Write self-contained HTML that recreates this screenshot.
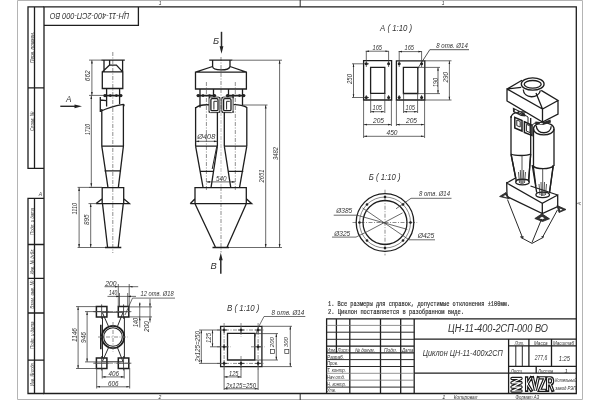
<!DOCTYPE html>
<html><head><meta charset="utf-8">
<style>
html,body{margin:0;padding:0;background:#fff;width:600px;height:400px;overflow:hidden}
svg{display:block;filter:grayscale(100%)}
text{font-family:"Liberation Sans",sans-serif;font-style:italic;fill:#333}
.n text,text.n{font-style:normal}
.mono text{font-family:"Liberation Mono",monospace}
.k{stroke:#1e1e1e;stroke-width:1.3;fill:none}
.m{stroke:#2a2a2a;stroke-width:1;fill:none}
.t{stroke:#3a3a3a;stroke-width:0.75;fill:none}
.c{stroke:#6a6a6a;stroke-width:0.75;fill:none;stroke-dasharray:4 1.5 1 1.5}
.d{fill:#222}
</style></head>
<body>
<svg width="600" height="400" viewBox="0 0 600 400">
<rect width="600" height="400" fill="#fff"/>
<!-- outer sheet -->
<path style="stroke:#b4b4b4;stroke-width:1;fill:none" d="M17.5,0.5 H582.5 V399.5 H17.5 Z"/>
<!-- frame -->
<path class="k" d="M44,6.9 H576.3 V393.5 H44 Z"/>
<!-- ticks -->
<path class="m" d="M300.2,0 V6.9 M300.2,393.5 V400"/>
<!-- upper strip -->
<path class="k" d="M44,6.9 H28 V168.3 H44 M34.5,6.9 V168.3 M28,87.8 H44"/>
<!-- lower strip -->
<path class="k" d="M44,198.3 H28 V393.5 H44 M34.5,198.3 V393.5 M28,244.5 H44 M28,278.3 H44 M28,313 H44 M28,360.1 H44"/>
<!-- rotated title box -->
<path class="k" d="M44,25.4 H138.4 V6.9"/>
<text transform="translate(129.3,13.4) rotate(180)" font-size="9.4" textLength="79.5" lengthAdjust="spacingAndGlyphs">ЦН-11-400-2СП-000 ВО</text>
<!-- strip labels -->
<g font-size="6" fill="#444">
<text transform="translate(33.6,63) rotate(-90)" textLength="31" lengthAdjust="spacingAndGlyphs">Перв. примен.</text>
<text transform="translate(33.6,131) rotate(-90)" textLength="19.4" lengthAdjust="spacingAndGlyphs">Справ. №</text>
<text transform="translate(33.6,235) rotate(-90)" textLength="27" lengthAdjust="spacingAndGlyphs">Подп. и дата</text>
<text transform="translate(33.6,274.5) rotate(-90)" textLength="26" lengthAdjust="spacingAndGlyphs">Инв. № дубл.</text>
<text transform="translate(33.6,308.7) rotate(-90)" textLength="28" lengthAdjust="spacingAndGlyphs">Взам. инв. №</text>
<text transform="translate(33.6,349) rotate(-90)" textLength="27.5" lengthAdjust="spacingAndGlyphs">Подп. и дата</text>
<text transform="translate(33.6,385.7) rotate(-90)" textLength="23.5" lengthAdjust="spacingAndGlyphs">Инв. № подл.</text>
<text x="38.8" y="196.2" font-size="5">А</text>
<text transform="translate(581,205) rotate(-90)" font-size="4.5">А</text>
<text x="158.8" y="4.6" font-size="5">1</text>
<text x="441.8" y="4.6" font-size="5">1</text>
<text x="158.5" y="399.4" font-size="5">2</text>
</g>
<!-- title block -->
<g>
<path class="k" d="M326.6,393.2 V318.8 H576 M336.4,318.8 V352.8 M349.8,318.8 V393.2 M380.5,318.8 V393.2 M400.7,318.8 V393.2 M414.2,318.8 V393.2 M326.6,346.2 H414.2 M326.6,352.8 H414.2 M508.6,339.2 V393.2 M414.2,339.2 H576 M414.2,373.2 H576 M508.6,345.9 H576 M508.6,366.4 H576 M528.9,339.2 V366.4 M551.5,339.2 V366.4 M536.2,366.4 V373.2"/>
<path class="m" d="M326.6,332.2 H414.2 M326.6,339.3 H414.2 M326.6,359.6 H414.2 M326.6,366.5 H414.2 M326.6,387.1 H414.2 M515.8,345.9 V366.4 M522.3,345.9 V366.4"/>
<path class="t" style="stroke:#777;stroke-width:0.8" d="M326.6,325.4 H414.2 M326.6,373.3 H414.2 M326.6,380.2 H414.2"/>
</g>
<g font-size="5" fill="#333">
<text x="327" y="352" font-size="5.6" textLength="9" lengthAdjust="spacingAndGlyphs">Изм.</text>
<text x="337.5" y="352" font-size="5.6" textLength="11" lengthAdjust="spacingAndGlyphs">Лист</text>
<text x="355" y="352" font-size="5.6" textLength="20" lengthAdjust="spacingAndGlyphs">№ докум.</text>
<text x="384" y="352" font-size="5.6" textLength="13" lengthAdjust="spacingAndGlyphs">Подп.</text>
<text x="402" y="352" font-size="5.6" textLength="11.5" lengthAdjust="spacingAndGlyphs">Дата</text>
<text x="327" y="358.6" font-size="6" textLength="17" lengthAdjust="spacingAndGlyphs">Разраб.</text>
<text x="327" y="365.4" font-size="6" textLength="11" lengthAdjust="spacingAndGlyphs">Пров.</text>
<text x="327" y="372.2" font-size="6" textLength="19" lengthAdjust="spacingAndGlyphs">Т. контр.</text>
<text x="327" y="379" font-size="6" textLength="18" lengthAdjust="spacingAndGlyphs">Нач.отд.</text>
<text x="327" y="385.8" font-size="6" textLength="19" lengthAdjust="spacingAndGlyphs">Н. контр.</text>
<text x="327" y="392.4" font-size="6" textLength="9" lengthAdjust="spacingAndGlyphs">Утв.</text>
<text x="448" y="332.4" font-size="10" textLength="100" lengthAdjust="spacingAndGlyphs">ЦН-11-400-2СП-000 ВО</text>
<text x="422.8" y="356.3" font-size="8.8" textLength="80" lengthAdjust="spacingAndGlyphs">Циклон ЦН-11-400х2СП</text>
<text x="514.7" y="345.2" font-size="6" textLength="9.5" lengthAdjust="spacingAndGlyphs">Лит.</text>
<text x="534" y="345.2" font-size="6" textLength="13.5" lengthAdjust="spacingAndGlyphs">Масса</text>
<text x="553" y="345.2" font-size="6" textLength="21" lengthAdjust="spacingAndGlyphs">Масштаб</text>
<text x="534.7" y="360" font-size="6.6" textLength="12.6" lengthAdjust="spacingAndGlyphs">277,6</text>
<text x="558.7" y="360.5" font-size="6.6" textLength="11.3" lengthAdjust="spacingAndGlyphs">1:25</text>
<text x="510.7" y="372.8" font-size="6" textLength="11.3" lengthAdjust="spacingAndGlyphs">Лист</text>
<text x="538" y="372.8" font-size="6" textLength="15.3" lengthAdjust="spacingAndGlyphs">Листов</text>
<text x="564.5" y="372.8" font-size="6">1</text>
<text x="555.3" y="382" font-size="5.2" textLength="21" lengthAdjust="spacingAndGlyphs">Котельный</text>
<text x="555.3" y="389.8" font-size="5.2" textLength="21" lengthAdjust="spacingAndGlyphs">завод РЭП</text>
<text x="442.3" y="398.8" font-size="5.6">1</text>
<text x="453.8" y="398.8" font-size="5.6" textLength="23.5" lengthAdjust="spacingAndGlyphs">Копировал</text>
<text x="515.6" y="398.8" font-size="5.6" textLength="23.5" lengthAdjust="spacingAndGlyphs">Формат А3</text>
</g>
<!-- notes -->
<g font-size="6.6" fill="#222" class="n mono" stroke="#222" stroke-width="0.18">
<text x="328" y="306.2" textLength="182" lengthAdjust="spacingAndGlyphs">1. Все размеры для справок, допустимые отклонения ±100мм.</text>
<text x="328" y="314.4" textLength="136" lengthAdjust="spacingAndGlyphs">2. Циклон поставляется в разобранном виде.</text>
</g>
<!-- logo -->
<g>
<path d="M512,378.5 H521 M512,382.8 H521 M512,387.1 H521 M512,391 H521 M521,378.5 L512,382.8 M521,382.8 L512,387.1 M521,387.1 L512,391" fill="none" stroke="#1a1a1a" stroke-width="3.4" stroke-linecap="round" stroke-linejoin="round"/>
<path d="M512,378.5 H521 M512,382.8 H521 M512,387.1 H521 M512,391 H521 M521,378.5 L512,382.8 M521,382.8 L512,387.1 M521,387.1 L512,391" fill="none" stroke="#fff" stroke-width="1.2" stroke-linecap="round" stroke-linejoin="round"/>
<path d="M526.6,377.8 V390.3 M531,377.8 L527.2,384 L531.2,390.3 M532.6,377.8 L535.4,390.3 L538.2,377.8 M539.6,377.8 H545 L539.6,390.3 H545.3 M547.6,390.3 V377.8 H550.5 C553.3,377.8 553.3,384 550.5,384 H547.6 M550.2,384 L552.6,390.3" fill="none" stroke="#1a1a1a" stroke-width="3.3" stroke-linejoin="miter" stroke-linecap="square"/><path d="M526.6,377.8 V390.3 M531,377.8 L527.2,384 L531.2,390.3 M532.6,377.8 L535.4,390.3 L538.2,377.8 M539.6,377.8 H545 L539.6,390.3 H545.3 M547.6,390.3 V377.8 H550.5 C553.3,377.8 553.3,384 550.5,384 H547.6 M550.2,384 L552.6,390.3" fill="none" stroke="#fff" stroke-width="1" stroke-linejoin="miter" stroke-linecap="butt"/>
</g>

<!-- LEFT VIEW -->
<g>
<path class="c" d="M112.8,52 V253"/>
<path class="k" d="M101.2,60.1 H124.8 M104,60.1 V71.9 M122.6,60.1 V71.9 M109.6,60.1 V65.1 M109.6,65.1 H116.4 L122.7,71.9 M109.6,65.1 L102.3,71.9 M102.3,71.9 H122.8 V88.5 H102.3 Z M106.6,88.5 V106.6 M119.6,88.5 V104.3"/><path class="k" style="stroke-width:1.7" d="M104,95.6 H121.6"/>
<path class="k" d="M100.3,97 V112 M100.3,100 L106.5,100.6 M100.3,111.5 C106,108.5 116,105.5 123.3,104.3 C124.5,104.5 124,106 123.5,106.2 M101.8,109 V146.2 M123.4,104.5 V146.2 M101.8,146.2 H123.4 L118.4,187.2 M101.8,146.2 L107.9,187.2 M104.5,170.8 H121.1"/>
<path class="k" d="M102.2,187.6 H123.7 V203.6 H102.2 Z M96.1,203.6 H129.4 L123.7,198.8 M96.1,203.6 L102.2,198.8 M102.5,203.6 L107.6,247.5 M123.3,203.6 L118.2,247.5 M105,247.5 H121.3"/>
<g class="d"><circle cx="105" cy="95.6" r="1.7"/><circle cx="110.3" cy="95.6" r="1.4"/><circle cx="116.4" cy="95.6" r="1.4"/><circle cx="120.8" cy="95.6" r="1.7"/></g>
<!-- dims -->
<path class="t" d="M89,60.1 H101 M91.9,60.1 V95.4 M89,95.4 H104 M91.3,95.4 V186.8 M89,187.4 H102 M77.6,187.4 H102 M79.1,187.4 V247.5 M88.5,203.6 H96 M90.7,203.6 V247.5 M77.6,247.5 H105"/>
<g class="d">
<path d="M91.9,60.4 l-0.9,3.2 h1.8z M91.9,95.1 l-0.9,-3.2 h1.8z M91.3,95.7 l-0.9,3.2 h1.8z M91.3,186.5 l-0.9,-3.2 h1.8z M79.1,187.7 l-0.9,3.2 h1.8z M79.1,247.2 l-0.9,-3.2 h1.8z M90.7,203.9 l-0.9,3.2 h1.8z M90.7,247.2 l-0.9,-3.2 h1.8z"/>
</g>
<g font-size="7" fill="#2a2a2a">
<text transform="translate(90.1,81.2) rotate(-90)" textLength="10.9" lengthAdjust="spacingAndGlyphs">662</text>
<text transform="translate(89.8,134.9) rotate(-90)" textLength="10.9" lengthAdjust="spacingAndGlyphs">1710</text>
<text transform="translate(77,214.4) rotate(-90)" textLength="11.4" lengthAdjust="spacingAndGlyphs">1110</text>
<text transform="translate(88.8,225) rotate(-90)" textLength="10.6" lengthAdjust="spacingAndGlyphs">895</text>
</g>
<!-- arrow A -->
<path class="m" style="stroke-width:1.4" d="M60.3,106.3 H76"/>
<path class="d" d="M82,106.3 l-7.5,-1.9 v3.8z"/>
<text x="66" y="101.7" font-size="8.2" fill="#2a2a2a">А</text>
</g>

<!-- FRONT VIEW -->
<g>
<path class="c" d="M221,57 V112 M221,187 V252.5 M206.4,82 V190 M235.3,82 V190"/><path class="c" style="stroke:#aaa" d="M221,112 V187"/>
<path class="k" d="M209.2,60.2 H232.5 M212.6,60.2 V66.5 C213,71 229,71 230,66.5 V60.2 M212.6,66.5 L195.5,72.2 M230,66.5 L246.4,72.2 M195.5,72.2 H246.4 V89 H195.5 Z"/>
<path class="k" d="M200,89 V107.5 M213.5,89 V97 M228.5,89 V97 M242.5,89 V105"/><path class="k" style="stroke-width:1.7" d="M197.5,95.6 H215 M227,95.6 H244.2"/>
<rect class="m" style="stroke-width:0.9" x="209" y="97.1" width="10.9" height="15.5" rx="1.5"/><rect class="m" style="stroke-width:0.9" x="221.8" y="97.1" width="11.3" height="15.5" rx="1.5"/>
<rect class="k" x="210.9" y="98.7" width="7.1" height="12" rx="1.2"/><rect class="k" x="223.6" y="98.7" width="7.4" height="12" rx="1.2"/><path class="m" d="M213.9,101.3 H217 M213.9,101.3 V109.5 M226.6,101.3 H229.8 M226.6,101.3 V109.5"/>
<path class="k" d="M195.6,108 C198,105.6 204,104.6 209,104.8 M233.6,104.6 C238,104.4 245,105.6 246.8,107.5 M195.6,107 V146.1 M217.4,112 V146.1 M224.3,112 V146.1 M246.8,107 V146.1 M195.6,146.1 H217.4 M224.3,146.1 H246.8"/>
<path class="k" d="M195.6,146.1 L203,187.2 M217.4,146.1 L211.1,187.2 M224.3,146.1 L230.7,187.2 M246.8,146.1 L239.6,187.2 M199.6,171.3 H213.4 M227.8,171.3 H243.3"/>
<path class="m" d="M216.8,146.1 L212.2,169"/>
<path class="k" d="M195,187.6 H246.3 V203.7 H195 Z M190.2,203.7 H251.7 L246.3,198.7 M190.2,203.7 L195,198.7 M195,203.7 L215.6,247.5 M246.3,203.7 L226.9,247.5 M212.5,247.5 H229"/>
<g class="d">
<circle cx="198.2" cy="95.6" r="1.7"/><circle cx="203" cy="95.6" r="1.3"/><circle cx="209.5" cy="95.6" r="1.3"/><circle cx="214.5" cy="95.6" r="1.7"/>
<circle cx="227.5" cy="95.6" r="1.7"/><circle cx="233" cy="95.6" r="1.3"/><circle cx="239.5" cy="95.6" r="1.3"/><circle cx="243.7" cy="95.6" r="1.7"/>
<circle cx="209.3" cy="97.8" r="0.8"/><circle cx="219.3" cy="97.8" r="0.8"/><circle cx="209.3" cy="112" r="0.8"/><circle cx="219.3" cy="112" r="0.8"/>
<circle cx="222.5" cy="97.8" r="0.8"/><circle cx="233.3" cy="97.8" r="0.8"/><circle cx="222.5" cy="112" r="0.8"/><circle cx="233.3" cy="112" r="0.8"/>
</g>
<!-- dims -->
<path class="t" d="M232.5,60.2 H282 M242.5,105 H267.5 M229,247.5 H282 M265.7,105 V247.5 M279.6,60.2 V247.5 M195.6,141.3 H217.4 M206.4,181.9 H235.3"/>
<g class="d">
<path d="M265.7,105.3 l-0.9,3.2 h1.8z M265.7,247.2 l-0.9,-3.2 h1.8z M279.6,60.5 l-0.9,3.2 h1.8z M279.6,247.2 l-0.9,-3.2 h1.8z M195.9,141.3 l3.2,-0.9 v1.8z M217.1,141.3 l-3.2,-0.9 v1.8z M206.7,181.9 l3.2,-0.9 v1.8z M235,181.9 l-3.2,-0.9 v1.8z"/>
</g>
<g font-size="7" fill="#2a2a2a">
<text transform="translate(263.8,182.5) rotate(-90)" textLength="13" lengthAdjust="spacingAndGlyphs">2651</text>
<text transform="translate(277.6,160) rotate(-90)" textLength="13" lengthAdjust="spacingAndGlyphs">3482</text>
<text x="197.3" y="138.8" textLength="18" lengthAdjust="spacingAndGlyphs">Ø408</text>
<text x="216" y="180.5" textLength="10.6" lengthAdjust="spacingAndGlyphs">540</text>
</g>
<!-- arrows B, V -->
<path class="m" style="stroke-width:1.5" d="M221.5,31.8 V47"/>
<path class="d" d="M221.5,53.8 l-1.9,-7.5 h3.8z M220.8,252.8 l-1.9,7.5 h3.8z"/>
<path class="m" style="stroke-width:1.5" d="M220.8,259 V273.8"/>
<text x="213" y="43.8" font-size="9.4" fill="#2a2a2a">Б</text>
<text x="210.6" y="269" font-size="9.4" fill="#2a2a2a">В</text>
</g>

<!-- VIEW A -->
<g>
<text x="380" y="30.7" font-size="9.6" fill="#222" textLength="32.2" lengthAdjust="spacingAndGlyphs">А ( 1:10 )</text>
<path class="k" d="M363.6,60.7 H391.6 V100 H363.6 Z M370.6,67.3 H384.8 V93.3 H370.6 Z M396.4,60.8 H424.8 V100 H396.4 Z M403.4,67.4 H417.8 V93.5 H403.4 Z"/>
<path class="t" d="M366.3,51 V67 M388.6,51 V67 M399.2,51 V67 M421.6,51 V67 M366.3,95 V100.5 M388.6,95 V100.5 M399.2,95 V100.5 M421.6,95 V100.5 M363.6,100 V138 M391.4,100 V126 M396.4,100 V126 M424.6,100 V138 M370.7,93 V113 M384.8,93 V113 M403.6,93 V113 M417.6,93 V113 M352,63.8 H369 M352,97.5 H369 M418,67.4 H440 M418,93.6 H440 M425,60.8 H451.5 M425,100 H451.5"/>
<path class="t" d="M365.7,51.2 H388.7 M398.7,51.6 H421.7 M353.5,63.8 V97.5 M438,67.4 V93.6 M449.4,60.8 V100 M370.7,111.7 H384.3 M403.7,111.7 H417.4 M363.7,124.6 H391.3 M396.3,124.6 H424.3 M363.7,136.3 H424.3"/>
<path class="t" style="stroke:#2a2a2a;stroke-width:0.8" d="M417.4,69 L429.8,49.7 H469"/>
<g class="d">
<circle cx="366.3" cy="63.8" r="1.5"/><circle cx="388.6" cy="63.8" r="1.5"/><circle cx="366.3" cy="97.5" r="1.5"/><circle cx="388.6" cy="97.5" r="1.5"/>
<circle cx="399.2" cy="63.8" r="1.5"/><circle cx="421.6" cy="63.8" r="1.5"/><circle cx="399.2" cy="97.5" r="1.5"/><circle cx="421.6" cy="97.5" r="1.5"/>
<path d="M366,51.2 l3,-0.8 v1.6z M388.4,51.2 l-3,-0.8 v1.6z M399,51.6 l3,-0.8 v1.6z M421.4,51.6 l-3,-0.8 v1.6z M353.5,64.1 l-0.8,3 h1.6z M353.5,97.2 l-0.8,-3 h1.6z M438,67.7 l-0.8,3 h1.6z M438,93.3 l-0.8,-3 h1.6z M449.4,61.1 l-0.8,3 h1.6z M449.4,99.7 l-0.8,-3 h1.6z M371,111.7 l3,-0.8 v1.6z M384,111.7 l-3,-0.8 v1.6z M404,111.7 l3,-0.8 v1.6z M417.1,111.7 l-3,-0.8 v1.6z M364,124.6 l3,-0.8 v1.6z M391,124.6 l-3,-0.8 v1.6z M396.6,124.6 l3,-0.8 v1.6z M424,124.6 l-3,-0.8 v1.6z M364,136.3 l3,-0.8 v1.6z M424,136.3 l-3,-0.8 v1.6z"/>
</g>
<g font-size="7" fill="#2a2a2a">
<text x="372.5" y="49.6" textLength="9.5" lengthAdjust="spacingAndGlyphs">165</text>
<text x="404.5" y="49.8" textLength="9.5" lengthAdjust="spacingAndGlyphs">165</text>
<text transform="translate(352,84) rotate(-90)" textLength="10" lengthAdjust="spacingAndGlyphs">250</text>
<text transform="translate(437.6,87) rotate(-90)" textLength="8.9" lengthAdjust="spacingAndGlyphs">190</text>
<text transform="translate(448.4,82.5) rotate(-90)" textLength="10.6" lengthAdjust="spacingAndGlyphs">290</text>
<text x="372.5" y="110" textLength="9.5" lengthAdjust="spacingAndGlyphs">105</text>
<text x="405.5" y="110" textLength="9.5" lengthAdjust="spacingAndGlyphs">105</text>
<text x="373" y="122.8" textLength="11" lengthAdjust="spacingAndGlyphs">205</text>
<text x="406" y="122.8" textLength="11" lengthAdjust="spacingAndGlyphs">205</text>
<text x="386.5" y="134.5" textLength="11" lengthAdjust="spacingAndGlyphs">450</text>
<text x="436.3" y="48" textLength="31.5" lengthAdjust="spacingAndGlyphs">8 отв. Ø14</text>
</g>
</g>
<!-- VIEW B (circle) -->
<g>
<text x="368.8" y="179.6" font-size="9.6" fill="#222" textLength="31.7" lengthAdjust="spacingAndGlyphs">Б ( 1:10 )</text>
<path class="c" d="M352.5,222.5 H417.2 M385,189.7 V255.4"/>
<circle class="t" style="stroke:#555;stroke-width:0.7" cx="385" cy="222.5" r="25.5"/>
<circle class="k" cx="385" cy="222.5" r="28.8"/>
<circle class="k" cx="385" cy="222.5" r="22"/>
<g class="d">
<circle cx="385" cy="197" r="1.3"/><circle cx="385" cy="248" r="1.3"/><circle cx="359.5" cy="222.5" r="1.3"/><circle cx="410.5" cy="222.5" r="1.3"/>
<circle cx="367" cy="204.5" r="1.3"/><circle cx="403" cy="204.5" r="1.3"/><circle cx="367" cy="240.5" r="1.3"/><circle cx="403" cy="240.5" r="1.3"/>
</g>
<path class="t" d="M333.7,215.2 H357 L407.3,229.4 M332,237.1 H356 L367.4,231.5 L402.5,212.9 M409,239.8 H435 M409,239.8 L362.6,208 M411,198.3 H451.5 M411,198.3 L396,208.8"/>
<g font-size="7" fill="#2a2a2a">
<text x="336.2" y="213.3" textLength="16" lengthAdjust="spacingAndGlyphs">Ø385</text>
<text x="334.2" y="235.6" textLength="16" lengthAdjust="spacingAndGlyphs">Ø325</text>
<text x="417.7" y="237.5" textLength="16.5" lengthAdjust="spacingAndGlyphs">Ø425</text>
<text x="419" y="196" textLength="31" lengthAdjust="spacingAndGlyphs">8 отв. Ø14</text>
</g>
</g>

<!-- VIEW V -->
<g>
<text x="227" y="310.6" font-size="9.6" fill="#222" textLength="32.5" lengthAdjust="spacingAndGlyphs">В ( 1:10 )</text>
<path class="k" d="M220.6,326.3 H261.9 V366.6 H220.6 Z M227.5,333.4 H254.8 V360 H227.5 Z"/>
<path class="c" d="M224.1,323 V370 M258.1,323 V370 M217,330 H265 M217,363.4 H265 M241,323 V337 M241,356 V370 M217,346.8 H231 M251,346.8 H265"/>
<path class="m" style="stroke-width:0.8" d="M221.1,330 H227.1 M224.1,327 V333 M238,330 H244 M241,327 V333 M255.10000000000002,330 H261.1 M258.1,327 V333 M221.1,346.8 H227.1 M224.1,343.8 V349.8 M255.10000000000002,346.8 H261.1 M258.1,343.8 V349.8 M221.1,363.4 H227.1 M224.1,360.4 V366.4 M238,363.4 H244 M241,360.4 V366.4 M255.10000000000002,363.4 H261.1 M258.1,360.4 V366.4"/>
<path class="t" d="M199,330 H221 M199,363.4 H221 M210,346.8 H221 M201.3,330 V363.4 M212.5,330 V346.8 M255,333.6 H278 M255,360 H278 M262,326.3 H292 M262,366.6 H292 M276.3,333.6 V360 M290.3,326.3 V366.6 M224.1,366 V390 M241,366 V378 M258.1,366 V390 M224.1,376.9 H241 M224.1,388.8 H258.1"/>
<path class="t" style="stroke:#333;stroke-width:0.7" d="M254.6,337.5 L258.4,327.2 L264,316.5 H305.3"/>
<g class="d">
<circle cx="224.1" cy="330" r="1.3"/><circle cx="241" cy="330" r="1.3"/><circle cx="258.1" cy="330" r="1.3"/>
<circle cx="224.1" cy="346.8" r="1.3"/><circle cx="258.1" cy="346.8" r="1.3"/>
<circle cx="224.1" cy="363.4" r="1.3"/><circle cx="241" cy="363.4" r="1.3"/><circle cx="258.1" cy="363.4" r="1.3"/>
<path d="M201.3,330.3 l-0.8,3 h1.6z M201.3,363.1 l-0.8,-3 h1.6z M212.5,330.3 l-0.8,3 h1.6z M212.5,346.5 l-0.8,-3 h1.6z M276.3,333.9 l-0.8,3 h1.6z M276.3,359.7 l-0.8,-3 h1.6z M290.3,326.6 l-0.8,3 h1.6z M290.3,366.3 l-0.8,-3 h1.6z M224.4,376.9 l3,-0.8 v1.6z M240.7,376.9 l-3,-0.8 v1.6z M224.4,388.8 l3,-0.8 v1.6z M257.8,388.8 l-3,-0.8 v1.6z"/>
</g>
<g font-size="7" fill="#2a2a2a">
<text transform="translate(199.5,362) rotate(-90)" textLength="31" lengthAdjust="spacingAndGlyphs">2x125=250</text>
<text transform="translate(210.5,343) rotate(-90)" textLength="10" lengthAdjust="spacingAndGlyphs">125</text>
<text transform="translate(274.2,347.2) rotate(-90)" font-size="5" textLength="10" lengthAdjust="spacingAndGlyphs">200</text><rect x="270.6" y="349.6" width="4" height="4" fill="none" stroke="#333" stroke-width="0.7"/>
<text transform="translate(288.4,347.2) rotate(-90)" font-size="5" textLength="10" lengthAdjust="spacingAndGlyphs">300</text><rect x="284.8" y="349.6" width="4" height="4" fill="none" stroke="#333" stroke-width="0.7"/>
<text x="229" y="375.8" textLength="9.5" lengthAdjust="spacingAndGlyphs">125</text>
<text x="226" y="387.8" textLength="30" lengthAdjust="spacingAndGlyphs">2x125=250</text>
<text x="271.6" y="314.6" textLength="32.8" lengthAdjust="spacingAndGlyphs">8 отв.  Ø14</text>
</g>
</g>
<!-- BASE VIEW -->
<g>
<path class="k" style="stroke-width:1.5" d="M96.4,306.4 H106.9 V316.9 H96.4 Z M118.3,306.4 H128.8 V316.9 H118.3 Z M96.4,358 H106.9 V368.5 H96.4 Z M118.3,358 H128.8 V368.5 H118.3 Z"/>
<path class="m" style="stroke-width:0.8" d="M101.65,304.4 V318.9 M94.4,311.65 H108.9 M123.55,304.4 V318.9 M116.3,311.65 H130.8 M101.65,356 V370.5 M94.4,363.25 H108.9 M123.55,356 V370.5 M116.3,363.25 H130.8"/>
<path class="m" d="M102.3,312.2 H123.2 M102.3,361.8 H123.2 M102.5,316.9 V358 M124.4,316.9 V358 M102.3,312.5 L108.6,326.6 M123,312.5 L117.4,326.6 M102.3,361.6 L108.6,347.4 M123,361.6 L117.4,347.4"/>
<path class="k" style="stroke-width:1.6" d="M100.8,324.8 V349.3"/>
<circle class="k" style="stroke-width:1.7" cx="113" cy="337" r="11.2"/>
<circle class="k" style="stroke-width:1.1" cx="113" cy="337" r="9.3"/>
<path class="c" d="M113,322 V352 M98,337 H128 M93,311.6 H132 M93,363.2 H132"/>
<path class="t" d="M76,306.6 H96.5 M76,368.5 H96.5 M85,311.6 H101 M85,361.9 H101 M78.1,306.6 V368.5 M87.1,311.6 V361.9 M96.7,368 V388.5 M129.7,368 V388.5 M102.2,368 V378.5 M124.2,368 V378.5 M96.7,386.8 H129.7 M102.2,376.9 H124.2 M104.5,286.7 H138.2 M118.3,284 V306.5 M129.2,284 V306.5 M107.5,296.4 H136 M119.5,293 V306.5 M127.7,293 V306.5 M129,306.9 H152 M129,316.9 H152 M139.75,302.5 V327.5 M150,298.7 V322.5"/>
<path class="t" style="stroke:#333;stroke-width:0.7" d="M125,315 L132.5,298.1 H175"/>
<g class="d">
<path d="M78.1,306.9 l-0.8,3 h1.6z M78.1,368.2 l-0.8,-3 h1.6z M87.1,311.9 l-0.8,3 h1.6z M87.1,361.6 l-0.8,-3 h1.6z M97,386.8 l3,-0.8 v1.6z M129.4,386.8 l-3,-0.8 v1.6z M102.5,376.9 l3,-0.8 v1.6z M123.9,376.9 l-3,-0.8 v1.6z M118,286.7 l-3,-0.8 v1.6z M129.5,286.7 l3,-0.8 v1.6z M119.2,296.4 l-3,-0.8 v1.6z M128,296.4 l3,-0.8 v1.6z M139.75,306.6 l-0.8,-3 h1.6z M139.75,317.2 l-0.8,3 h1.6z M150,306.6 l-0.8,-3 h1.6z M150,317.2 l-0.8,3 h1.6z"/>
</g>
<g font-size="7" fill="#2a2a2a">
<text transform="translate(76.9,342) rotate(-90)" textLength="14" lengthAdjust="spacingAndGlyphs">1146</text>
<text transform="translate(85.8,343) rotate(-90)" textLength="11" lengthAdjust="spacingAndGlyphs">946</text>
<text x="108.5" y="375.8" textLength="10.5" lengthAdjust="spacingAndGlyphs">406</text>
<text x="108" y="385.8" textLength="10.5" lengthAdjust="spacingAndGlyphs">606</text>
<text x="105.2" y="286" textLength="11.3" lengthAdjust="spacingAndGlyphs">200</text>
<text x="109" y="295.3" textLength="8.2" lengthAdjust="spacingAndGlyphs">140</text>
<text x="140.6" y="296.4" textLength="33" lengthAdjust="spacingAndGlyphs">12 отв. Ø18</text>
<text transform="translate(138.3,327) rotate(-90)" textLength="9" lengthAdjust="spacingAndGlyphs">140</text>
<text transform="translate(148.5,332) rotate(-90)" textLength="11" lengthAdjust="spacingAndGlyphs">200</text>
</g>
</g>

<!-- ISO VIEW -->
<g>
<!-- left back cylinder + cone -->
<path class="k" d="M511,116 V154 M530.7,118 V154 M511,154 L516.4,181.5 M530.7,154 L528.6,181.5 M511,154 C515,156 527,156 530.7,154"/>

<path class="k" d="M511,118 C511,111 524,111 529,113"/>
<!-- right front cylinder + cone -->
<path class="k" d="M533.5,128.8 V166 M554,128.8 V166 M533.3,166 C536,169.5 550,169.5 553.3,166 M533.3,166 L536.7,192.7 M553.3,166 L549.5,192.7"/>
<path class="k" d="M533.5,128.8 C533.5,120.8 554,120.8 554,128.8 C554,136.8 533.5,136.8 533.5,128.8"/>
<path class="k" d="M536.3,125.8 C536.3,135 551.2,135 551.2,126.3"/>

<!-- inlet frames -->
<path class="k" style="stroke-width:1.5" d="M514.8,117.4 L522,120.5 V131 L514.8,128 Z M524.4,121.8 L532,125.2 V135.5 L524.4,132.4 Z"/>
<path class="m" d="M516.8,120 L520.2,121.4 V127 L516.8,125.6 Z M526.4,124.3 L530,125.9 V132.6 L526.4,131.1 Z"/>
<!-- roof box -->
<path fill="#fff" stroke="none" d="M507,89 L522,80.3 L541.2,90.4 L558,100.5 V114 L542.5,122 L507.5,101 Z"/>
<path class="k" d="M507,89 L522,80.3 M541.2,90.4 L558,100.5 L542.5,109 L507,89 V101 L542.5,122 L558,114 V100.5 M542.5,109 V122 M507,89 L521.2,87.3 M536,93 L542.5,109"/>
<ellipse class="k" fill="#fff" cx="532.7" cy="84" rx="11.4" ry="6.2"/>
<ellipse class="k" cx="532.7" cy="84.3" rx="8.5" ry="3.8"/>
<path class="k" d="M523.3,89.5 C523.5,99 539,99 540.4,90.4"/>
<!-- bolt flanges under roof -->
<path fill="#2a2a2a" d="M512.8,107.5 L525,113.6 L525.5,116.5 L521,116 L513,112 Z M535.5,121.5 L542.5,122.3 L550.5,119.5 L551,122.5 L543,125 L535,124 Z"/>
<path fill="#fff" d="M515,109.8 l3,1.5 l-1,1.2 l-2.5,-1.2z M519.5,112 l2.5,1.2 l-1,1.2 l-2.2,-1z M540,123 l3,0.3 l-0.5,0.9 l-2.8,-0.3z"/>
<path class="m" d="M514.6,112.4 C520,113 524,114 528,117 M528,117 V124.5 M532,125.2 L535.5,122.5"/>
<!-- hopper box -->
<path fill="#fff" stroke="none" d="M506.7,183 L515.5,178 L557.7,195 V206.6 L542.3,213.6 L507.3,196.5 Z"/>
<path class="k" d="M506.7,183 L515.5,178 M506.7,183 L542.3,203.2 L557.7,195 V206.6 L542.3,213.6 L507,196.5 Z M542.3,203.2 V213.6 M530.5,186 L557.7,195"/>
<path class="k" d="M515.7,182 C515.7,178.3 529.3,178.3 529.3,182 C529.3,185.7 515.7,185.7 515.7,182"/>
<path class="k" d="M535.9,194.8 C535.9,191.1 549.5,191.1 549.5,194.8 C549.5,198.5 535.9,198.5 535.9,194.8"/>
<path class="k" d="M511,154 L516.4,181.5 M530.7,154 L528.6,181.5 M532.2,165 L536.7,192.7 M553.2,165 L549.5,192.7"/>
<path class="m" style="stroke-width:0.8" d="M522,155 V184 M518.5,172 L519.5,183 M520.3,170 L521,184 M523.7,170 L523,184 M525.5,172 L524.5,183 M542.7,168 V196 M539,184 L540,195 M541,182 L541.5,196 M544.5,182 L544,196 M546.5,184 L545.5,195"/>
<!-- brackets -->
<path fill="#333" stroke="#222" stroke-width="0.8" d="M499.6,196.5 L506,192.5 L509.3,198.8 Z M534.8,218.5 L542,213.8 L549.5,218.8 L542.5,221.5 Z M557,205.5 L566,209.5 L559,212.5 Z"/>
<path fill="#fff" d="M503,196.3 l2.5,-1.2 l1.5,2.3z M539.5,218.3 l2.5,-1.5 l2.5,1.5 l-2.5,1.2z M559.5,208.5 l3,1 l-2,1.2z"/>
<!-- hopper pyramid -->
<path class="m" d="M507.5,199.6 L522.4,237.3 M541.7,218.9 L532,242.5 M557.4,210 L542.5,237.3 M520.6,237.3 L532,243.4 L543.4,237.3"/>
<path fill="#333" d="M520,236 l4,0.5 l-1.5,2.5z M541,236.5 l3,-0.8 l-1,2.5z"/>
</g>
</svg>
</body></html>
